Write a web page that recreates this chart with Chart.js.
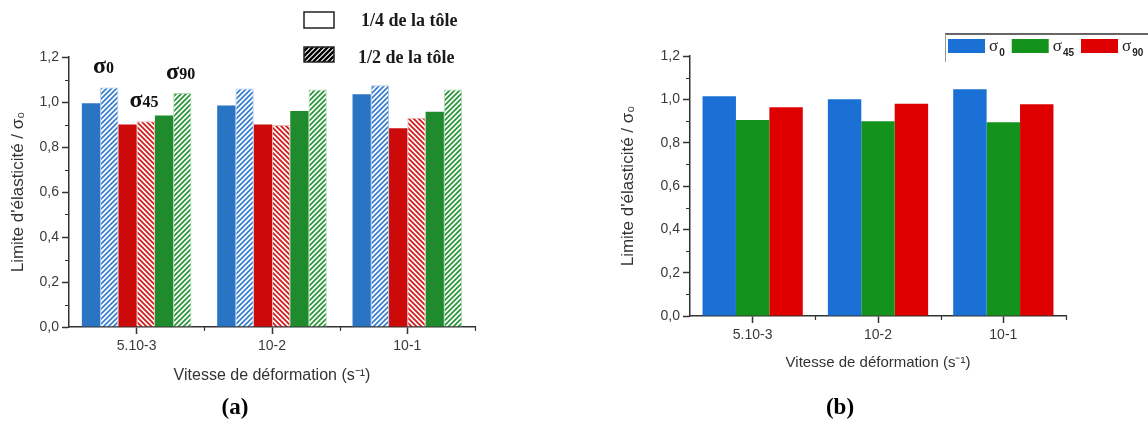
<!DOCTYPE html>
<html>
<head>
<meta charset="utf-8">
<script src="https://cdn.jsdelivr.net/npm/chart.js@4.4.0/dist/chart.umd.min.js"></script>
<style>
  html, body { margin: 0; padding: 0; background: #fff; }
  body { width: 1148px; height: 424px; position: relative; overflow: hidden; }
  .box { position: absolute; top: 0; height: 424px; }
  #boxA { left: 0; width: 560px; }
  #boxB { left: 580px; width: 568px; }
  .cap { position: absolute; top: 394px; width: 100px; text-align: center; line-height: 1;
         font: bold 23px "Liberation Serif", "Times New Roman", serif; color: #000; }
</style>
</head>
<body>
<div class="box" id="boxA"><canvas id="chartA"></canvas></div>
<div class="box" id="boxB"><canvas id="chartB"></canvas></div>
<div class="cap" style="left:185px">(a)</div>
<div class="cap" style="left:790px">(b)</div>
<script>
// strain rates (s-1)
var categories = ['5.10-3', '10-2', '10-1'];
var sigmaNames = ['0', '45', '90'];

// (a) yield limit / sigma0, at 1/4 and 1/2 of the sheet thickness
var s0Quart = [0.995, 0.985, 1.035];
var s0Half = [1.065, 1.06, 1.075];
var s45Quart = [0.90, 0.90, 0.883];
var s45Half = [0.915, 0.898, 0.93];
var s90Quart = [0.94, 0.96, 0.957];
var s90Half = [1.04, 1.056, 1.056];
var legendA = ['1/4 de la tôle', '1/2 de la tôle'];

// (b) yield limit / sigma0
var s0 = [1.014, 1.0, 1.046];
var s45 = [0.905, 0.899, 0.894];
var s90 = [0.963, 0.98, 0.977];

var yTitle = "Limite d'élasticité / σ₀";
var xTitle = 'Vitesse de déformation (s⁻¹)';

Chart.defaults.font.family = '"Liberation Sans", Arial, sans-serif';
var serif = '"Liberation Serif", "Times New Roman", serif';

function hatch(color, dir, lw) {
  var s = 5;
  var c = document.createElement('canvas');
  c.width = s; c.height = s;
  var g = c.getContext('2d');
  g.fillStyle = '#fff';
  g.fillRect(0, 0, s, s);
  g.strokeStyle = color;
  g.lineWidth = lw || 1.8;
  g.beginPath();
  if (dir > 0) {
    g.moveTo(-1, s + 1); g.lineTo(s + 1, -1);
    g.moveTo(-1, 1); g.lineTo(1, -1);
    g.moveTo(s - 1, s + 1); g.lineTo(s + 1, s - 1);
  } else {
    g.moveTo(-1, -1); g.lineTo(s + 1, s + 1);
    g.moveTo(s - 1, -1); g.lineTo(s + 1, 1);
    g.moveTo(-1, s - 1); g.lineTo(1, s + 1);
  }
  g.stroke();
  return g.createPattern(c, 'repeat');
}

function fmt(v) {
  return v.toFixed(1).replace('.', ',');
}

var minorTicks = {
  id: 'minorTicks',
  afterDraw: function(chart) {
    var ctx = chart.ctx, x = chart.scales.x, y = chart.scales.y;
    ctx.save();
    ctx.strokeStyle = '#333';
    ctx.lineWidth = 1.2;
    ctx.beginPath();
    for (var v = 0.1; v < 1.2; v += 0.2) {
      var py = Math.round(y.getPixelForValue(v)) + 0.5;
      ctx.moveTo(y.right - 4, py); ctx.lineTo(y.right, py);
    }
    for (var i = 0; i < categories.length; i++) {
      var px = Math.round(x.getPixelForValue(i + 0.5)) + 0.5;
      ctx.moveTo(px, x.top); ctx.lineTo(px, x.top + 4);
    }
    ctx.stroke();
    ctx.restore();
  }
};

// sigma labels above the first group + thickness legend
var annotA = {
  id: 'annotA',
  afterDraw: function(chart) {
    var ctx = chart.ctx;
    ctx.save();
    ctx.fillStyle = '#111';
    ctx.textBaseline = 'alphabetic';
    ctx.textAlign = 'left';
    for (var k = 0; k < 3; k++) {
      var a = chart.getDatasetMeta(2 * k).data[0];
      var b = chart.getDatasetMeta(2 * k + 1).data[0];
      var tx = a.x + 2;
      var ty = Math.min(a.y, b.y) - 14;
      ctx.font = 'bold 24px ' + serif;
      ctx.fillText('σ', tx, ty);
      var w = ctx.measureText('σ').width;
      ctx.font = 'bold 16px ' + serif;
      ctx.fillText(sigmaNames[k], tx + w, ty);
    }
    // legend boxes
    ctx.lineWidth = 1.5;
    ctx.strokeStyle = '#222';
    ctx.fillStyle = '#fff';
    ctx.fillRect(304, 12, 30, 16);
    ctx.strokeRect(304, 12, 30, 16);
    ctx.fillStyle = hatch('#000', 1, 2.4);
    ctx.fillRect(304, 47, 30, 15);
    ctx.strokeRect(304, 47, 30, 15);
    ctx.fillStyle = '#1a1a1a';
    ctx.font = 'bold 18px ' + serif;
    ctx.textBaseline = 'middle';
    ctx.fillText(legendA[0], 361, 21);
    ctx.fillText(legendA[1], 358, 58);
    ctx.restore();
  }
};

var legendB = {
  id: 'legendB',
  afterDraw: function(chart) {
    var ctx = chart.ctx;
    var x0 = 365, y0 = 34;
    ctx.save();
    ctx.strokeStyle = '#333';
    ctx.lineWidth = 1.5;
    ctx.beginPath();
    ctx.moveTo(x0, y0); ctx.lineTo(chart.width, y0);
    ctx.stroke();
    ctx.strokeStyle = '#999';
    ctx.lineWidth = 1;
    ctx.beginPath();
    ctx.moveTo(x0 + 0.5, y0); ctx.lineTo(x0 + 0.5, y0 + 28);
    ctx.stroke();
    var cx = x0 + 3;
    chart.data.datasets.forEach(function(ds, i) {
      ctx.fillStyle = ds.backgroundColor;
      ctx.fillRect(cx, 39, 37, 14);
      cx += 41;
      ctx.fillStyle = '#222';
      ctx.textBaseline = 'alphabetic';
      ctx.font = '17px ' + serif;
      ctx.fillText('σ', cx, 51);
      cx += ctx.measureText('σ').width + 1;
      ctx.font = 'bold 10px "Liberation Sans", Arial, sans-serif';
      ctx.fillText(sigmaNames[i], cx, 56);
      cx += ctx.measureText(sigmaNames[i]).width + 7;
    });
    ctx.restore();
  }
};

function scalesFor(yWidth, xHeight, yTitleSize, xTitleSize) {
  return {
    x: {
      grid: { offset: false, drawOnChartArea: false, tickLength: 7, tickColor: '#333', tickWidth: 1.5 },
      border: { color: '#333', width: 1.5 },
      ticks: { color: '#3a3a3a', font: { size: 14 }, padding: 4, maxRotation: 0 },
      title: { display: true, text: xTitle, color: '#333', font: { size: xTitleSize }, padding: { top: 0, bottom: 0 } },
      afterFit: function(s) { s.height = xHeight; }
    },
    y: {
      min: 0, max: 1.2,
      ticks: { stepSize: 0.2, color: '#3a3a3a', font: { size: 14 }, padding: 3, callback: fmt },
      grid: { drawOnChartArea: false, tickLength: 7, tickColor: '#333', tickWidth: 1.5 },
      border: { color: '#333', width: 1.5 },
      title: { display: true, text: yTitle, color: '#333', font: { size: yTitleSize }, padding: { top: 8, bottom: 0 } },
      afterFit: function(s) { s.width = yWidth; }
    }
  };
}

var blue = '#2a74c4', red = '#cc0a0a', green = '#1f8b2d';

new Chart(document.getElementById('chartA'), {
  type: 'bar',
  data: {
    labels: categories,
    datasets: [
      { data: s0Quart, backgroundColor: blue, borderWidth: 0 },
      { data: s0Half, backgroundColor: hatch('#3a80d0', 1), borderColor: '#a8c6ea', borderWidth: 1 },
      { data: s45Quart, backgroundColor: red, borderWidth: 0 },
      { data: s45Half, backgroundColor: hatch('#d41c1c', -1), borderColor: '#efb4b4', borderWidth: 1 },
      { data: s90Quart, backgroundColor: green, borderWidth: 0 },
      { data: s90Half, backgroundColor: hatch('#2c963a', 1), borderColor: '#b2d9b6', borderWidth: 1 }
    ]
  },
  options: {
    responsive: true,
    maintainAspectRatio: false,
    animation: false,
    layout: { padding: { left: 0, right: 85, top: 57, bottom: 39 } },
    datasets: { bar: { categoryPercentage: 0.81, barPercentage: 1 } },
    plugins: { legend: { display: false }, tooltip: { enabled: false } },
    scales: scalesFor(69, 58, 17, 16)
  },
  plugins: [minorTicks, annotA]
});

new Chart(document.getElementById('chartB'), {
  type: 'bar',
  data: {
    labels: categories,
    datasets: [
      { label: 'σ0', data: s0, backgroundColor: '#1a70d4', borderWidth: 0 },
      { label: 'σ45', data: s45, backgroundColor: '#14931c', borderWidth: 0 },
      { label: 'σ90', data: s90, backgroundColor: '#de0000', borderWidth: 0 }
    ]
  },
  options: {
    responsive: true,
    maintainAspectRatio: false,
    animation: false,
    layout: { padding: { left: 30, right: 82, top: 56, bottom: 52 } },
    datasets: { bar: { categoryPercentage: 0.8, barPercentage: 1 } },
    plugins: { legend: { display: false }, tooltip: { enabled: false } },
    scales: scalesFor(80, 56, 17, 15)
  },
  plugins: [minorTicks, legendB]
});
</script>
</body>
</html>
